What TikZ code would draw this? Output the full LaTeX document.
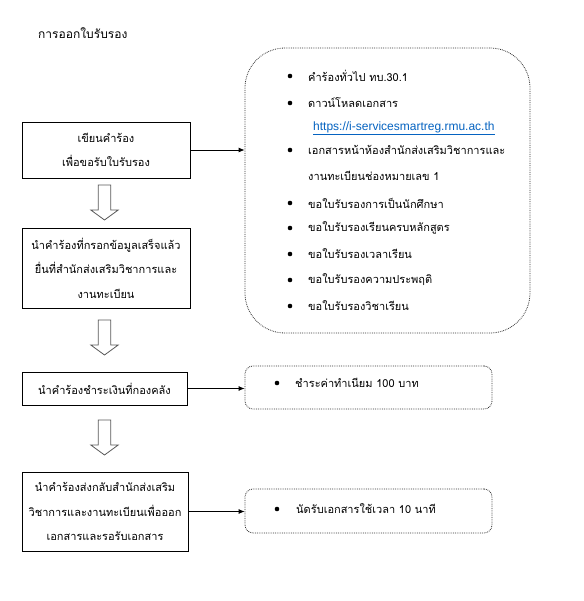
\documentclass[tikz,border=0pt]{standalone}
\usepackage{fontspec}
\newfontfamily\thai[Script=Thai]{Loma}
\newfontfamily\urlfont{Liberation Sans}
\usetikzlibrary{arrows.meta}
\definecolor{linkblue}{RGB}{5,99,193}
\tikzset{
  every node/.style={font=\thai\fontsize{11}{24.5}\selectfont},
  procbox/.style={draw, line width=0.9pt, align=center, inner sep=0pt},
  infobox/.style={draw=black!80, line width=0.8pt, densely dotted, inner sep=0pt},
  itemtxt/.style={anchor=west, inner sep=0pt},
  bul/.style={circle, fill, inner sep=0pt, minimum size=4.6pt},
  conn/.style={line width=0.8pt, -{Latex[length=6pt,width=5pt]}},
  blockarrow/.pic={\draw[black!65, line width=0.8pt] (-6.2,0) -- (6.2,0) -- (6.2,25) -- (13.7,25) -- (0,35) -- (-13.7,25) -- (-6.2,25) -- cycle;}
}
\begin{document}
\begin{tikzpicture}[x=1pt,y=-1pt]
\useasboundingbox[fill=white] (0,0) rectangle (583,601);
\node[anchor=west, inner sep=0pt, font=\thai\fontsize{12}{14}\selectfont] (title) at (38,33) {การออกใบรับรอง};

\node[procbox, minimum width=168pt, minimum height=56pt] (b1) at (106,150) {เขียนคำร้อง\\เพื่อขอรับใบรับรอง};
\node[procbox, minimum width=168pt, minimum height=80pt] (b2) at (106,268) {นำคำร้องที่กรอกข้อมูลเสร็จแล้ว\\ยื่นที่สำนักส่งเสริมวิชาการและ\\งานทะเบียน};
\node[procbox, minimum width=165pt, minimum height=33pt] (b3) at (104.5,388.5) {นำคำร้องชำระเงินที่กองคลัง};
\node[procbox, minimum width=166pt, minimum height=79pt] (b4) at (105,511.5) {นำคำร้องส่งกลับสำนักส่งเสริม\\วิชาการและงานทะเบียนเพื่อออก\\เอกสารและรอรับเอกสาร};

\pic at (104.5,185) {blockarrow};
\pic at (104.5,320) {blockarrow};
\pic at (104.5,420) {blockarrow};

\node[infobox, rounded corners=40pt, minimum width=285pt, minimum height=285pt] (big) at (387.5,190.5) {};
\node[infobox, rounded corners=8pt, minimum width=247pt, minimum height=43pt] (pay) at (368.5,387.5) {};
\node[infobox, rounded corners=8pt, minimum width=247pt, minimum height=44pt] (last) at (368.5,511) {};

\draw[conn] (b1.east) -- (b1.east -| big.west);
\draw[conn] (b3.east) -- (b3.east -| pay.west);
\draw[conn] (b4.east) -- (b4.east -| last.west);

\node[bul] (u1) at (290,76) {};
\node[itemtxt] (t1) at (308,76) {คำร้องทั่วไป ทบ.30.1};
\node[bul] (u2) at (290,103) {};
\node[itemtxt] (t2) at (308,103) {ดาวน์โหลดเอกสาร};
\node[itemtxt, font=\urlfont\fontsize{12}{14}\selectfont, text=linkblue] (t2b) at (313,128) {\underline{https://i-servicesmartreg.rmu.ac.th}};
\node[bul] (u3) at (290,150) {};
\node[itemtxt] (t3) at (308,150) {เอกสารหน้าห้องสำนักส่งเสริมวิชาการและ};
\node[itemtxt] (t3b) at (308,176) {งานทะเบียนช่องหมายเลข 1};
\node[bul] (u4) at (290,203) {};
\node[itemtxt] (t4) at (308,203) {ขอใบรับรองการเป็นนักศึกษา};
\node[bul] (u5) at (290,228) {};
\node[itemtxt] (t5) at (308,228) {ขอใบรับรองเรียนครบหลักสูตร};
\node[bul] (u6) at (290,254) {};
\node[itemtxt] (t6) at (308,254) {ขอใบรับรองเวลาเรียน};
\node[bul] (u7) at (290,280) {};
\node[itemtxt] (t7) at (308,280) {ขอใบรับรองความประพฤติ};
\node[bul] (u8) at (290,306) {};
\node[itemtxt] (t8) at (308,306) {ขอใบรับรองวิชาเรียน};

\node[bul] (u9) at (277,383) {};
\node[itemtxt] (t9) at (295,383) {ชำระค่าทำเนียม 100 บาท};
\node[bul] (u10) at (277,509) {};
\node[itemtxt] (t10) at (296,509) {นัดรับเอกสารใช้เวลา 10 นาที};
\end{tikzpicture}
\end{document}
